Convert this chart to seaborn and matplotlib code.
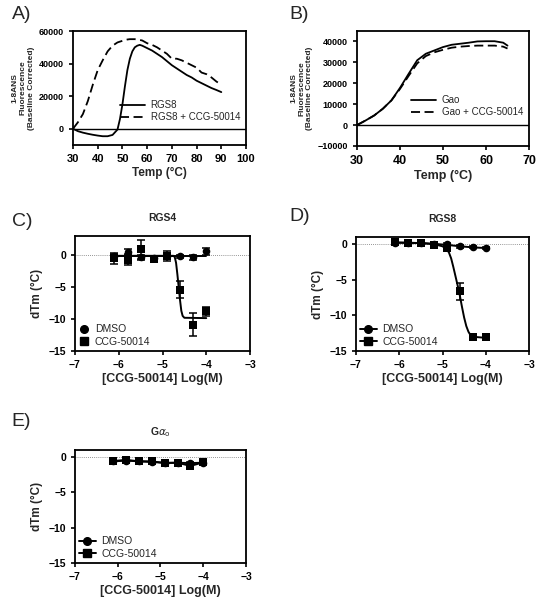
import numpy as np
import pandas as pd
import seaborn as sns
import matplotlib.pyplot as plt
from matplotlib.lines import Line2D

# ---- A) RGS8 thermal melt ----
tempA = [30, 32, 34, 36, 38, 40, 42, 44, 46, 48,
         49, 50, 51, 52, 53, 54, 55, 56, 57, 58,
         60, 62, 64, 66, 68, 70, 72, 74, 76, 78,
         80, 82, 84, 86, 88, 90]
rgs8 = [0, -1500, -2400, -3100, -3700, -4200, -4600, -4600, -3800, -500,
        6000, 15000, 26000, 36000, 43000, 47500, 50000, 51000, 51500, 51000,
        49500, 48000, 46000, 44000, 41500, 39000, 37000, 35000, 33000, 31500,
        29500, 28000, 26500, 25000, 23800, 22500]
rgs8_ccg = [0, 4000, 9000, 17000, 27000, 36000, 42000, 47500, 51000, 53000,
            53500, 54000, 54400, 54800, 55000, 55000, 55000, 54800, 54500, 54200,
            52500, 51500, 50000, 48000, 46000, 43000, 43000, 42000, 40500, 39000,
            37500, 34500, 33500, 31500, 29000, 27000]

# ---- B) Gao thermal melt ----
tempB = [30, 32, 34, 36, 38, 40, 42, 44, 46, 48,
         50, 52, 54, 56, 58, 60, 62, 64, 65]
gao = [0, 2200, 4600, 7800, 11800, 17800, 24500, 31000, 34100, 35700,
       37300, 38400, 38900, 39400, 40000, 40100, 40100, 39400, 38000]
gao_ccg = [0, 2200, 4600, 7800, 11800, 17300, 23500, 29500, 33000, 34800,
           36000, 37000, 37500, 37800, 38000, 38000, 38000, 37500, 36600]

# ---- C/D/E) dose response ----
logc = [-6.1, -5.8, -5.5, -5.2, -4.9, -4.6, -4.3, -4.0]

rgs4_dmso = [-0.2, 0.5, -0.3, -0.5, -0.2, -0.2, -0.3, 0.6]
rgs4_dmso_err = [0.4, 0.4, 0.4, 0.4, 0.4, 0.3, 0.4, 0.5]
rgs4_ccg = [-0.5, -0.7, 0.9, -0.6, -0.15, -5.4, -10.9, -8.75]
rgs4_ccg_err = [0.9, 0.9, 1.5, 0.4, 0.8, 1.3, 1.8, 0.7]
rgs4_fit_x = [-6.1, -4.75, -4.72, -4.69, -4.66, -4.63, -4.60, -4.57, -4.54, -4.50, -4.0]
rgs4_fit_y = [-0.1, -0.1, -0.3, -1.2, -3.0, -5.0, -7.0, -8.7, -9.5, -9.8, -9.85]
rgs4_dmso_fit = [-0.1, -0.1, -0.1, -0.1, -0.1, -0.1, -0.1, -0.1]

rgs8_dmso = [0.2, 0.2, 0.15, 0.05, 0.0, -0.3, -0.4, -0.55]
rgs8_dmso_err = [0.2, 0.2, 0.2, 0.2, 0.2, 0.2, 0.2, 0.2]
rgs8_ccg_pts = [0.3, 0.2, 0.2, -0.1, -0.6, -6.6, -13.0, -13.1]
rgs8_ccg_err = [0.2, 0.2, 0.2, 0.2, 0.3, 1.2, 0.3, 0.3]
rgs8_fit_x = [-6.1, -5.5, -5.2, -5.0, -4.9, -4.85, -4.8, -4.75, -4.7, -4.65,
              -4.6, -4.55, -4.5, -4.45, -4.4, -4.35, -4.3, -4.0]
rgs8_fit_y = [0.25, 0.15, 0.0, -0.3, -0.7, -1.2, -2.0, -3.2, -4.5, -5.8,
              -7.2, -8.8, -10.3, -11.5, -12.3, -12.8, -13.0, -13.15]
rgs8_dmso_fit = [0.2, 0.18, 0.15, 0.05, -0.1, -0.3, -0.45, -0.55]

gao_dmso = [-0.6, -0.5, -0.6, -0.7, -0.8, -0.8, -0.85, -0.8]
gao_dmso_err = [0.2, 0.2, 0.2, 0.2, 0.2, 0.2, 0.2, 0.2]
gao_ccg_pts = [-0.55, -0.4, -0.6, -0.6, -0.85, -0.8, -1.25, -0.75]
gao_ccg_err = [0.2, 0.2, 0.2, 0.2, 0.2, 0.2, 0.3, 0.2]

sns.set_style("ticks")
plt.rcParams['font.family'] = ['Liberation Sans', 'DejaVu Sans']
plt.rcParams['axes.linewidth'] = 1.3

fig = plt.figure(figsize=(5.38, 5.99), dpi=100)
axA = fig.add_axes([0.1357, 0.7579, 0.3216, 0.1903])
axB = fig.add_axes([0.6636, 0.7563, 0.3197, 0.1920])
axC = fig.add_axes([0.1394, 0.4140, 0.3253, 0.1920])
axD = fig.add_axes([0.6617, 0.4140, 0.3216, 0.1903])
axE = fig.add_axes([0.1394, 0.0601, 0.3178, 0.1886])


def style_ax(ax, xfs, yfs):
    for s in ax.spines.values():
        s.set_linewidth(1.3)
        s.set_color('black')
    ax.tick_params(axis='both', direction='out', length=3, width=1.2, colors='black')
    for lab in ax.get_xticklabels():
        lab.set_fontsize(xfs)
        lab.set_fontweight('bold')
    for lab in ax.get_yticklabels():
        lab.set_fontsize(yfs)
        lab.set_fontweight('bold')


ylab_melt = "1-8ANS\nFluorescence\n(Baseline Corrected)"
dash = (0, (5, 2.5))

# A
axA.axhline(0, color='black', lw=1.0)
sns.lineplot(x=tempA, y=rgs8, ax=axA, color='black', lw=1.3, label="RGS8")
sns.lineplot(x=tempA, y=rgs8_ccg, ax=axA, color='black', lw=1.3,
             linestyle=dash, label="RGS8 + CCG-50014")
axA.set_xlim(30, 100)
axA.set_ylim(-10000, 60000)
axA.set_xticks(range(30, 101, 10))
axA.set_yticks([0, 20000, 40000, 60000])
axA.set_xlabel("Temp (°C)", fontsize=8.5, fontweight='bold', labelpad=2)
axA.set_ylabel(ylab_melt, fontsize=6, fontweight='bold', labelpad=3)
axA.legend(loc='lower right', bbox_to_anchor=(1.0, 0.15), frameon=False, fontsize=7,
           handlelength=2.6, labelspacing=0.2, borderpad=0.1, handletextpad=0.6)
style_ax(axA, 8, 6.5)

# B
axB.axhline(0, color='black', lw=1.0)
sns.lineplot(x=tempB, y=gao, ax=axB, color='black', lw=1.3, label="Gao")
sns.lineplot(x=tempB, y=gao_ccg, ax=axB, color='black', lw=1.3,
             linestyle=dash, label="Gao + CCG-50014")
axB.set_xlim(30, 70)
axB.set_ylim(-10000, 45000)
axB.set_xticks(range(30, 71, 10))
axB.set_yticks(range(-10000, 40001, 10000))
axB.set_xlabel("Temp (°C)", fontsize=9, fontweight='bold', labelpad=2)
axB.set_ylabel(ylab_melt, fontsize=6, fontweight='bold', labelpad=3)
axB.legend(loc='lower right', bbox_to_anchor=(1.0, 0.2), frameon=False, fontsize=7,
           handlelength=2.6, labelspacing=0.2, borderpad=0.1, handletextpad=0.6)
style_ax(axB, 9, 6.5)


def dose_panel(ax, title, dmso, dmso_err, ccg, ccg_err, dmso_fit_x, dmso_fit_y,
               ccg_fit_x, ccg_fit_y, ylim_top, legend_lines):
    ax.axhline(0, color='0.45', lw=0.6, linestyle=(0, (1, 1.5)))
    sns.lineplot(x=dmso_fit_x, y=dmso_fit_y, ax=ax, color='black', lw=1.4, sort=False)
    sns.lineplot(x=ccg_fit_x, y=ccg_fit_y, ax=ax, color='black', lw=1.4, sort=False)
    ax.errorbar(logc, dmso, yerr=dmso_err, fmt='none', ecolor='black', elinewidth=1.1,
                capsize=3, capthick=1.1)
    ax.errorbar(logc, ccg, yerr=ccg_err, fmt='none', ecolor='black', elinewidth=1.1,
                capsize=3, capthick=1.1)
    sns.scatterplot(x=logc, y=dmso, ax=ax, marker='o', s=30, color='black',
                    edgecolor='black', linewidth=0, zorder=3)
    sns.scatterplot(x=logc, y=ccg, ax=ax, marker='s', s=36, color='black',
                    edgecolor='black', linewidth=0, zorder=4)
    ax.set_xlim(-7, -3)
    ax.set_ylim(-15, ylim_top)
    ax.set_xticks([-7, -6, -5, -4, -3])
    ax.set_yticks([-15, -10, -5, 0])
    ax.set_title(title, fontsize=7.5, fontweight='bold', pad=11)
    ax.set_xlabel("[CCG-50014] Log(M)", fontsize=9, fontweight='bold', labelpad=2)
    ax.set_ylabel("dTm (°C)", fontsize=8.5, fontweight='bold', labelpad=4)
    ls = '-' if legend_lines else 'none'
    handles = [Line2D([], [], color='black', marker='o', markersize=5.5, linestyle=ls, lw=1.4),
               Line2D([], [], color='black', marker='s', markersize=6, linestyle=ls, lw=1.4)]
    ax.legend(handles, ["DMSO", "CCG-50014"], loc='lower left', frameon=False, fontsize=7.5,
              handlelength=1.6 if legend_lines else 1.0, labelspacing=0.25, borderpad=0.2,
              handletextpad=0.5, borderaxespad=0.2)
    style_ax(ax, 7.5, 7.5)


dose_panel(axC, "RGS4", rgs4_dmso, rgs4_dmso_err, rgs4_ccg, rgs4_ccg_err,
           logc, rgs4_dmso_fit, rgs4_fit_x, rgs4_fit_y, 3, False)
dose_panel(axD, "RGS8", rgs8_dmso, rgs8_dmso_err, rgs8_ccg_pts, rgs8_ccg_err,
           logc, rgs8_dmso_fit, rgs8_fit_x, rgs8_fit_y, 1, True)
dose_panel(axE, r"G$\alpha_\mathrm{o}$", gao_dmso, gao_dmso_err, gao_ccg_pts, gao_ccg_err,
           logc, gao_dmso, logc, gao_ccg_pts, 1, True)

# panel letters
for lab, x, y in [("A)", 0.022, 0.99), ("B)", 0.538, 0.99), ("C)", 0.022, 0.644),
                  ("D)", 0.538, 0.652), ("E)", 0.022, 0.31)]:
    fig.text(x, y, lab, fontsize=14, ha='left', va='top')

fig.savefig("out.png", dpi=100)
